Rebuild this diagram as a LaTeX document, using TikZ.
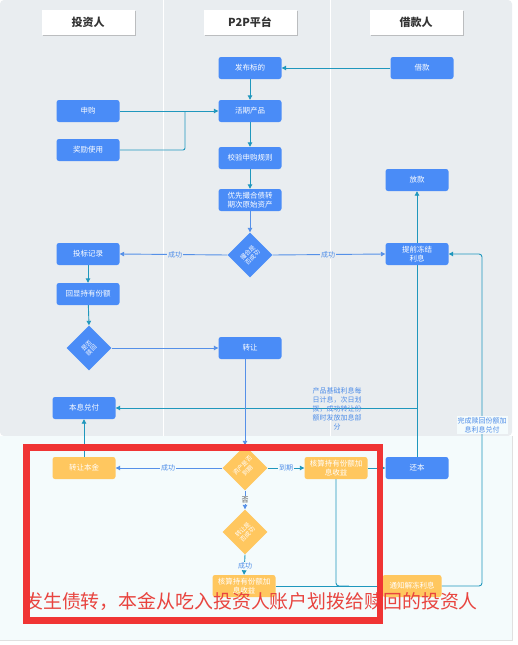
\documentclass[tikz,border=0pt]{standalone}
\usepackage{fontspec}
\setmainfont{Noto Sans CJK SC}
\usetikzlibrary{arrows.meta,shapes.geometric,shadows}
\definecolor{boxblue}{HTML}{4A8CF7}
\definecolor{boxyellow}{HTML}{FFC75F}
\definecolor{bggray}{HTML}{E9EDF0}
\definecolor{bglow}{HTML}{F4FBFC}
\definecolor{lineteal}{HTML}{1F97BD}
\definecolor{lineblue}{HTML}{5590E8}
\definecolor{labblue}{HTML}{4E8DE8}
\definecolor{redmark}{HTML}{F03434}
\definecolor{redtext}{HTML}{E8443F}
\pgfdeclarelayer{bgl}
\pgfdeclarelayer{edl}
\pgfsetlayers{bgl,edl,main}
\begin{document}
\begin{tikzpicture}[x=1pt,y=-1pt,
  box/.style={fill=boxblue, rounded corners=2.5pt, minimum width=63pt, minimum height=22pt,
    text=white, font=\fontsize{7.5}{8.5}\selectfont, align=center, inner sep=1pt},
  ybox/.style={box, fill=boxyellow},
  dia/.style={diamond, aspect=1, fill=boxblue, minimum width=45pt, minimum height=45pt, inner sep=0pt},
  ydia/.style={dia, fill=boxyellow},
  dtxt/.style={rotate=45, text=white, font=\fontsize{6}{6.8}\selectfont, align=center, inner sep=0pt},
  hdr/.style={fill=white, minimum width=93pt, minimum height=25pt,
    font=\fontsize{11}{12}\selectfont\bfseries, text=black!80,
    drop shadow={shadow xshift=1.5pt, shadow yshift=-1.5pt, opacity=0.35, fill=black!60}},
  tl/.style={draw=lineteal, line width=0.9pt},
  ar/.style={tl, -{Triangle[length=4.5pt,width=4.5pt]}},
  bl/.style={draw=lineblue, line width=0.9pt},
  bar/.style={bl, -{Triangle[length=4.5pt,width=4.5pt]}},
  lab/.style={text=labblue, font=\fontsize{7}{8}\selectfont, inner sep=1pt},
  note/.style={text=labblue, font=\fontsize{7}{9}\selectfont, align=center, inner sep=1pt}
]
\useasboundingbox (0,0) rectangle (517,645);
\begin{pgfonlayer}{bgl}
  \fill[white] (0,0) rectangle (517,645);
  \fill[bggray, rounded corners=4pt] (0,0) -- (512,0) -- (512,436) -- (0,436) -- cycle;
  \fill[bglow] (0,436) rectangle (512,640);
  \draw[black!12, line width=0.8pt] (0,640.5) -- (512,640.5) -- (512,436);
  \draw[white, line width=1pt] (163,0) -- (163,436);
  \draw[white, line width=1pt] (330,0) -- (330,436);
\end{pgfonlayer}

% headers
\node[hdr] (hd1) at (88,22) {投资人};
\node[hdr] (hd2) at (250,22) {P2P平台};
\node[hdr] (hd3) at (416,22) {借款人};

% blue boxes
\node[box] (fb) at (250,68) {发布标的};
\node[box] (jk) at (422,68) {借款};
\node[box] (sg) at (88,111) {申购};
\node[box] (hq) at (250,111) {活期产品};
\node[box] (jl) at (88,150) {奖励使用};
\node[box] (jy) at (250,158) {校验申购规则};
\node[box] (yx) at (250,200) {优先撮合债转\\期次原始资产};
\node[box] (fk) at (417,180) {放款};
\node[dia] (d1) at (250,255) {};
\node[dtxt] (d1t) at (d1) {撮合是\\否成功};
\node[box] (tb) at (88,254) {投标记录};
\node[box] (tq) at (417,254) {提前冻结\\利息};
\node[box] (hx) at (88,294) {回显持有份额};
\node[dia] (d2) at (89,348) {};
\node[dtxt] (d2t) at (d2) {是否\\赎回};
\node[box] (zr) at (250,348) {转让};
\node[box] (bx) at (84,408) {本息兑付};
\node[box] (hb) at (417,468) {还本};

% yellow
\node[ybox] (zb) at (84,468) {转让本金};
\node[ydia] (d3) at (245,468) {};
\node[dtxt] (d3t) at (d3) {资产是否\\到期};
\node[ybox] (hs1) at (336,468) {核算持有份额加\\息收益};
\node[ydia] (d4) at (245,532) {};
\node[dtxt] (d4t) at (d4) {转让是\\否成功};
\node[ybox] (hs2) at (244,586) {核算持有份额加\\息收益};
\node[ybox, minimum width=59pt] (tz) at (412,586) {通知解冻利息};

% notes
\node[note] (n1) at (337,409) {产品基础利息每\\日计息，次日划\\拨，成功转让份\\额时发放加息部\\分};

\coordinate (j1) at (185,111);
\coordinate (br) at (417,408);
\coordinate (rc) at (482,254);
\coordinate (jn) at (349,586);

\begin{pgfonlayer}{edl}
  \draw[ar] (jk.west) -- (fb.east);
  \draw[ar] (fb) -- (hq);
  \draw[ar] (sg.east) -- (hq.west);
  \draw[tl, rounded corners=2pt] (jl.east) -| (j1);
  \draw[ar] (hq) -- (jy);
  \draw[ar] (jy) -- (yx);
  \draw[bar] (yx) -- (d1.north);
  \draw[bar] (d1.west) -- (tb.east);
  \draw[bar] (d1.east) -- (tq.west);
  \draw[ar] (hb.north) -- (fk.south);
  \draw[ar] (br) -- (bx.east);
  \draw[ar] (tb) -- (hx);
  \draw[ar] (hx) -- (d2.north);
  \draw[bar] (d2.east) -- (zr.west);
  \draw[bar] (zr.south -| d3.north) -- (d3.north);
  \draw[bar] (d3.west) -- (zb.east);
  \draw[ar] (d3.east) -- (hs1.west);
  \draw[ar] (hs1.east) -- (hb.west);
  \draw[bar] (d3.south) -- (d4.north);
  \draw[ar] (d4.south) -- (hs2.north);
  \draw[ar] (zb.north) -- (bx.south);
  \draw[ar] (hs2.east) -- (tz.west);
  \draw[tl, rounded corners=3pt] (hs1.south) |- (jn);
  \draw[ar, rounded corners=3pt] (tz.east) -| (rc) -- (tq.east);
\end{pgfonlayer}

% connector labels
\node[lab, fill=bggray] (l1) at (175,255) {成功};
\node[lab, fill=bggray] (l2) at (328,255) {成功};
\node[lab, fill=bglow] (l3) at (168,468) {成功};
\node[lab, fill=bglow] (l4) at (286,468) {到期};
\node[lab, fill=bglow, text=black!70] (l5) at (245,500) {否};
\node[lab, fill=bglow] (l6) at (245,566) {成功};
\node[note, fill=bglow] (n2) at (482,425) {完成赎回份额加\\息利息兑付};

% red annotation
\node[anchor=west, inner sep=0pt, text=redtext, font=\fontsize{18.9}{20}\selectfont] (rt) at (24,601) {发生债转，本金从吃入投资人账户划拨给赎回的投资人};
\draw[redmark, line width=6.5pt] (26.5,447.5) rectangle (380,620.5);
\end{tikzpicture}
\end{document}
